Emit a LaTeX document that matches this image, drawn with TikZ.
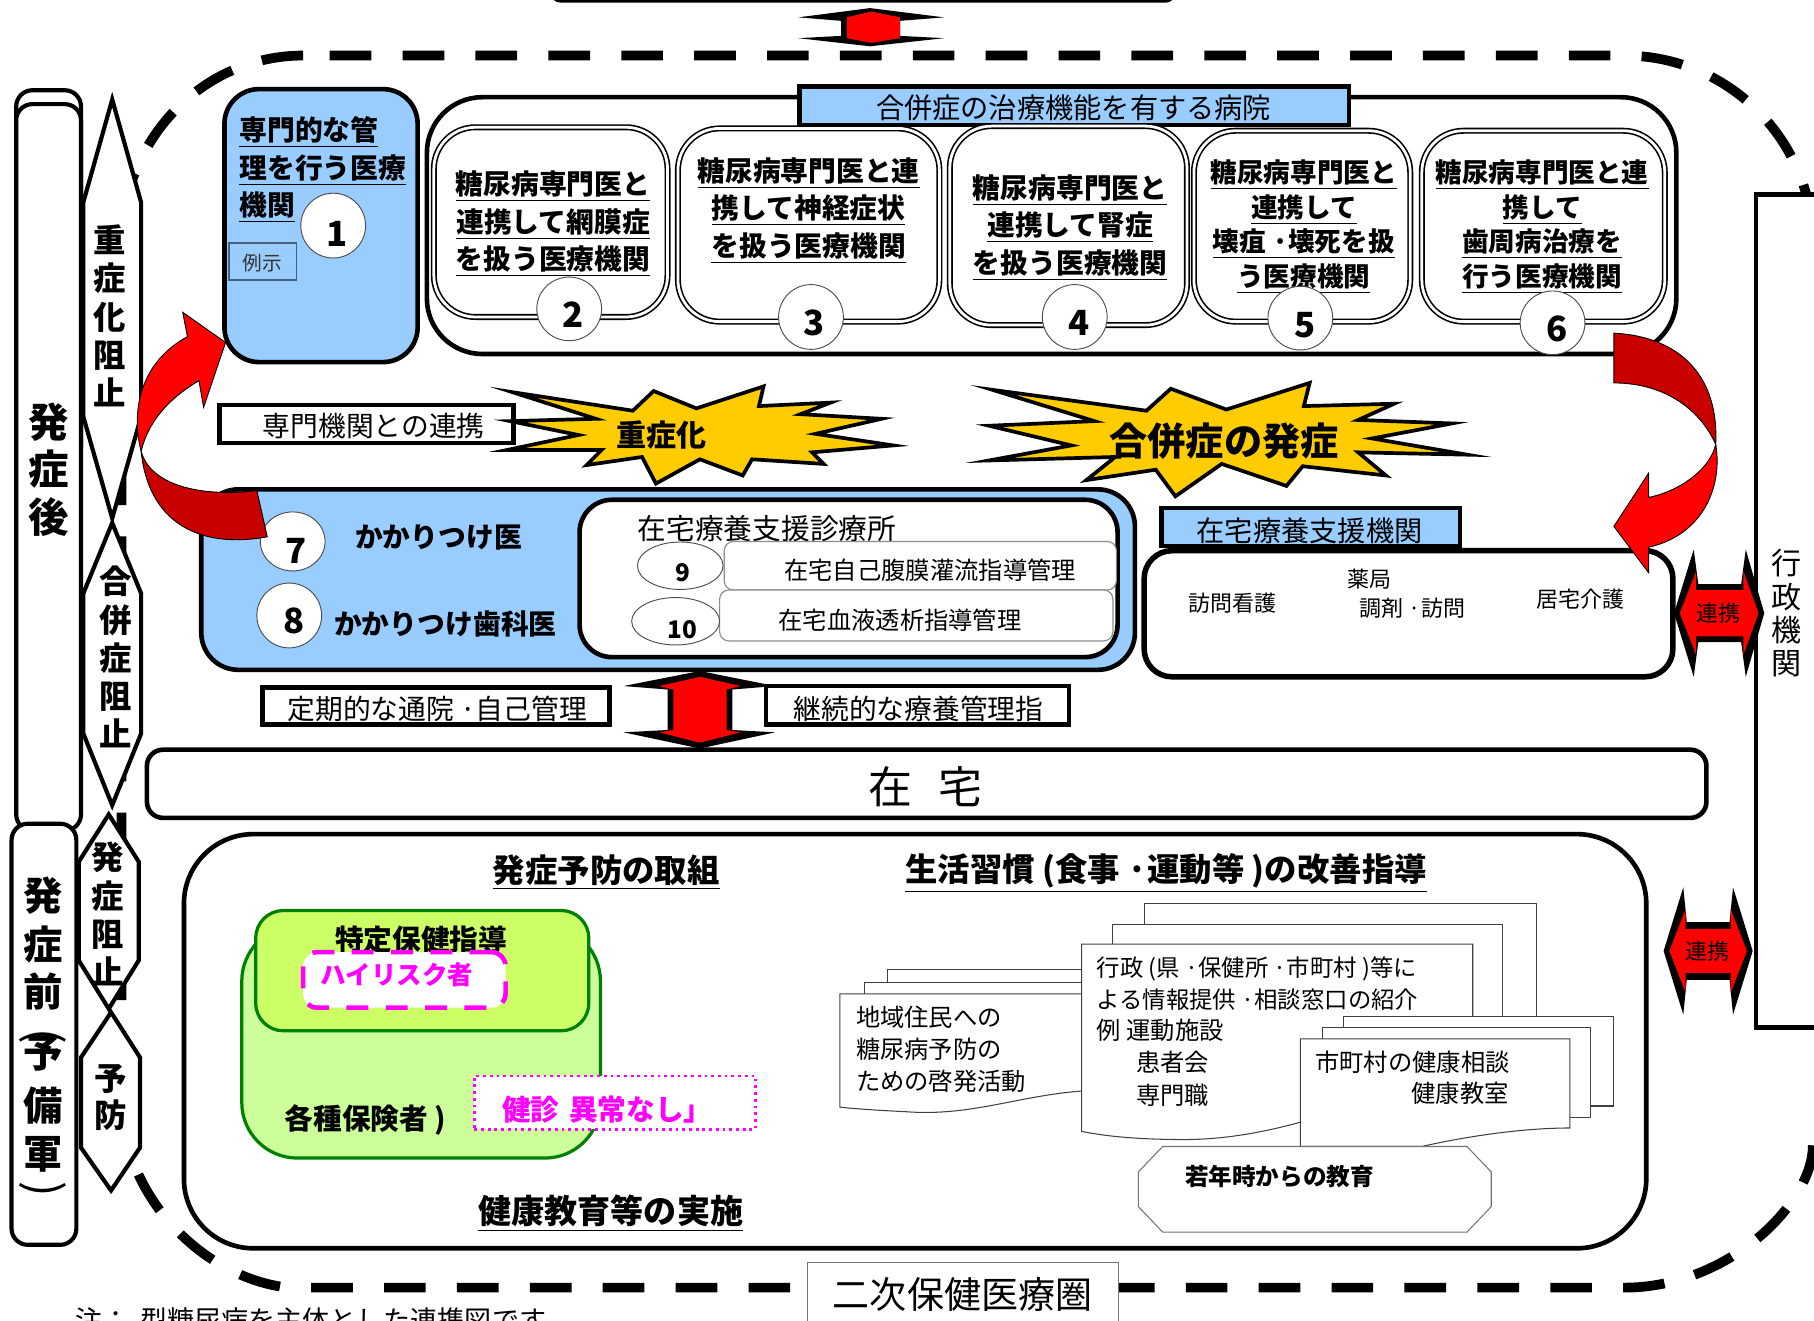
\documentclass[tikz,border=0pt]{standalone}
\usepackage{fontspec}
\setmainfont{Noto Sans CJK JP}
\usetikzlibrary{shapes.geometric}
\definecolor{skyb}{HTML}{99CCFF}
\definecolor{star}{HTML}{FFCC00}
\definecolor{dkred}{HTML}{C80000}
\definecolor{purered}{HTML}{FF0000}
\definecolor{mgt}{HTML}{FF00FF}
\definecolor{grnA}{HTML}{CCFF99}
\definecolor{grnB}{HTML}{CCFF66}
\definecolor{grnL}{HTML}{008000}
\definecolor{slateb}{HTML}{44607A}
\newcommand{\fz}[2]{\fontsize{#1}{#2}\selectfont}
\newcommand{\ul}[1]{\underline{#1}}
\newcommand{\bx}[6][]{\node[boxbase,#1,minimum width={(#5-#3)*0.5pt},minimum height={(#6-#4)*0.5pt}] (#2) at ({(#3+#5)/2},{(#4+#6)/2}) {};}
\newcommand{\el}[5]{\node[numell,minimum width={#4*0.5pt},minimum height={#5*0.5pt}] (#1) at (#2,#3) {};}
\tikzset{
  boxbase/.style={rectangle,inner sep=0pt,outer sep=0pt,draw=black,fill=white},
  heavy/.style={line width=2pt},
  numell/.style={ellipse,inner sep=0pt,outer sep=0pt,draw=black!70,line width=.4pt,fill=white},
  txt/.style={inner sep=0pt,outer sep=0pt,align=center,text=black},
  txtl/.style={inner sep=0pt,outer sep=0pt,align=left,anchor=west,text=black},
  head/.style={txt,font=\fz{12}{16}\bfseries},
  num/.style={txt,font=\fz{15}{16}\bfseries},
  hexa/.style={draw=black,fill=white,line width=1.8pt,line join=miter},
  dbl/.style={boxbase,draw=black,double=white,double distance=1.2pt,line width=.7pt,rounded corners=18pt},
  arrowout/.style={fill=black},
  arrowin/.style={fill=purered},
  starb/.style={draw=black,fill=star,line width=1.6pt,line join=miter,miter limit=20},
  docp/.style={draw=black!75,fill=white,line width=.45pt},
  curveR/.style={draw=black,line width=.4pt,fill=purered},
  curveD/.style={draw=black,line width=.4pt,fill=dkred},
  small/.style={txtl,font=\fz{10.5}{14}},
  bigdash/.style={line width=4.2pt,dash pattern=on 18pt off 13.5pt}
}
\begin{document}
\begin{tikzpicture}[x=.5pt,y=-.5pt]
\useasboundingbox (0,0) rectangle (1568,1141);
\clip (0,0) rectangle (1568,1141);
% outer dashed region, in four runs
\draw[bigdash] (285,48) -- (1404,48) .. controls (1494,48) and (1567,121) .. (1567,211);
\draw[bigdash] (269,1113) -- (1404,1113) .. controls (1494,1113) and (1567,1040) .. (1567,990);
\draw[bigdash] (262,48) .. controls (175,48) and (105,121) .. (105,211) -- (105,600);
\draw[bigdash] (242,1112) .. controls (170,1100) and (105,1030) .. (105,950) -- (105,610);
% top box and arrow
\bx[line width=1.2pt,rounded corners=3pt]{topbox}{478}{-30}{1014}{1}
\fill[arrowout] (752,7)--(816,15)--(778,18)--(778,31)--(816,33)--(752,40)--(690,33)--(727,31)--(727,18)--(690,15)--cycle;
\fill[white] (732,18) rectangle (774,31);
\fill[arrowin] (753,10)--(778,15)--(778,33)--(753,37)--(732,33)--(732,15)--cycle;
% left columns
\bx[line width=1.8pt,rounded corners=7pt]{afterA}{14}{78}{70}{400}
\bx[line width=1.8pt,rounded corners=7pt]{afterB}{14}{90}{70}{718}
\node[txt,font=\fz{17.5}{20.5}\bfseries] (afterT) at (42,406) {発\\症\\後};
\bx[line width=1.8pt,rounded corners=7pt]{before}{10}{712}{66}{1076}
\foreach \c/\yy/\nn in {発/774/a,症/816/b,前/857/c,予/911/d,備/956/e,軍/998/f}
  \node[txt,font=\fz{17}{18}\bfseries] (bf\nn) at (37,\yy) {\c};
\node[txt,font=\fz{20}{24},rotate=-90] (bfg) at (37,896) {(};
\node[txt,font=\fz{20}{24},rotate=-90] (bfh) at (37,1028) {)};
% hexagons
\draw[hexa] (97,86)--(122,175)--(122,360)--(97,448)--(72,360)--(72,175)--cycle;
\node[txt,font=\fz{14}{16.5}\bfseries] (hxA) at (95,273) {重\\症\\化\\阻\\止};
\draw[hexa] (97,452)--(122,513)--(122,634)--(97,696)--(72,634)--(72,513)--cycle;
\node[txt,font=\fz{14}{16.5}\bfseries] (hxB) at (100,568) {合\\併\\症\\阻\\止};
\draw[hexa] (94,704)--(120,745)--(120,830)--(94,872)--(68,830)--(68,745)--cycle;
\node[txt,font=\fz{14}{16.5}\bfseries] (hxC) at (93,790) {発\\症\\阻\\止};
\draw[hexa] (96,875)--(121,914)--(121,992)--(96,1029)--(70,992)--(70,914)--cycle;
\node[txt,font=\fz{14}{16}\bfseries] (hxD) at (96,949) {予\\防};
% gov box
\bx[heavy]{gov}{1518}{168}{1600}{888}
\node[txt,font=\fz{13}{14.3}] (govT) at (1544,530) {行\\政\\機\\関};
% specialist blue
\bx[heavy,fill=skyb,rounded corners=15pt]{spec}{194}{77}{361}{313}
\node[txtl,font=\fz{12}{16.2}\bfseries] (specT) at (207,147) {\ul{専門的な管}\\\ul{理を行う医療}\\\ul{機関}};
\el{c1}{288}{195}{56}{56}
\node[num] (n1) at (291,202) {1};
\bx[draw=slateb,line width=.5pt,fill=skyb]{rei}{198}{210}{256}{242}
\node[txt,font=\fz{8.5}{10},text=black!80] (reiT) at (227,227) {例示};
% complication hospital
\bx[heavy,rounded corners=24pt]{hosp}{369}{84}{1449}{306}
\bx[heavy,fill=skyb]{hospT}{691}{75}{1166}{108}
\node[txt,font=\fz{12.2}{14}] (hospL) at (928,93) {合併症の治療機能を有する病院};
\bx[dbl]{b2}{375}{110}{577}{274}
\bx[dbl]{b3}{586}{111}{812}{278}
\bx[dbl]{b4}{821}{109}{1026}{281}
\bx[dbl]{b5}{1032}{113}{1219}{278}
\bx[dbl]{b6}{1229}{113}{1439}{278}
\node[head,font=\fz{12}{16.2}\bfseries] (t2) at (478,193.5) {\ul{糖尿病専門医と}\\\ul{連携して網膜症}\\\ul{を扱う医療機関}};
\node[head,font=\fz{12}{16.2}\bfseries] (t3) at (699,182) {\ul{糖尿病専門医と連}\\\ul{携して神経症状}\\\ul{を扱う医療機関}};
\node[head,font=\fz{12}{16.2}\bfseries] (t4) at (925,196.5) {\ul{糖尿病専門医と}\\\ul{連携して腎症}\\\ul{を扱う医療機関}};
\node[head,font=\fz{11.5}{15}\bfseries] (t5) at (1127,196) {\ul{糖尿病専門医と}\\\ul{連携して}\\\ul{壊疽 ·壊死を扱}\\\ul{う医療機関}};
\node[head,font=\fz{11.5}{15}\bfseries] (t6) at (1333,196) {\ul{糖尿病専門医と連}\\\ul{携して}\\\ul{歯周病治療を}\\\ul{行う医療機関}};
\el{c2}{492}{267}{56}{55}\node[num] (n2) at (495,272) {2};
\el{c3}{701}{274}{56}{56}\node[num] (n3) at (704,279) {3};
\el{c4}{929}{274}{56}{56}\node[num] (n4) at (933,279) {4};
\el{c5}{1124}{275}{56}{55}\node[num] (n5) at (1128,281) {5};
\el{c6}{1342}{279}{56}{55}\node[num] (n6) at (1346,284) {6};
% stars
\bx[heavy]{link}{190}{350}{444}{383}
\node[txt,font=\fz{12}{14}] (linkT) at (323,368) {専門機関との連携};
\draw[starb] (443,339)--(547,355)--(565,338)--(602,353)--(660,334)--(656,351)--(718,348)--(692,358)--(762,362)--(705,375)--(772,385)--(702,391)--(712,401)--(650,397)--(642,411)--(605,397)--(567,418)--(555,395)--(507,402)--(520,389)--(438,389)--(500,376)--(441,364)--(515,362)--cycle;
\node[txt,font=\fz{13}{14}\bfseries] (starAT) at (572,376) {重症化};
\draw[starb] (858,337)--(991,355)--(1012,336)--(1060,354)--(1132,331)--(1127,351)--(1205,349)--(1174,363)--(1255,366)--(1186,379)--(1268,393)--(1174,391)--(1198,411)--(1126,403)--(1112,420)--(1056,401)--(1016,429)--(999,406)--(939,415)--(964,395)--(855,398)--(926,385)--(855,368)--(946,364)--cycle;
\node[txt,font=\fz{16.5}{18}\bfseries] (starBT) at (1058,381) {合併症の発症};
% family doctor block
\bx[heavy,fill=skyb,rounded corners=16pt]{fam}{174}{423}{981}{579}
\bx[heavy,rounded corners=14pt]{home}{501}{432}{966}{568}
\node[txt,font=\fz{12.4}{14}] (homeT) at (663,457) {在宅療養支援診療所};
\el{c7}{253}{468}{56}{51}\node[num] (n7) at (256,476) {7};
\el{c8}{250}{532}{56}{56}\node[num] (n8) at (254,537) {8};
\node[txt,font=\fz{12}{14}\bfseries] (d7) at (379,465) {かかりつけ医};
\node[txt,font=\fz{12}{14}\bfseries] (d8) at (385,539) {かかりつけ歯科医};
\bx[draw=black!45,line width=.5pt,rounded corners=4pt]{p9}{626}{468}{965}{510}
\bx[draw=black!45,line width=.5pt,rounded corners=4pt]{p10}{622}{510}{962}{554}
\el{c9}{588}{489}{74}{41}\node[txt,font=\fz{10.5}{12}\bfseries] (n9) at (590,495) {9};
\el{c10}{584}{537}{76}{41}\node[txt,font=\fz{10.5}{12}\bfseries] (n10) at (590,544) {10};
\node[txt,font=\fz{10.5}{12}] (p9T) at (804,493) {在宅自己腹膜灌流指導管理};
\node[txt,font=\fz{10.5}{12}] (p10T) at (778,536) {在宅血液透析指導管理};
% support institutions
\bx[heavy,fill=skyb]{supT}{1004}{439}{1262}{472}
\node[txt,font=\fz{12.2}{14}] (supL) at (1132,459) {在宅療養支援機関};
\bx[line width=2.4pt,rounded corners=12pt]{sup}{989}{476}{1446}{585}
\node[txt,font=\fz{9.5}{11}] (s1) at (1065,521) {訪問看護};
\node[txt,font=\fz{9.5}{11}] (s2) at (1184,501) {薬局};
\node[txt,font=\fz{9.5}{11}] (s3) at (1221,526) {調剤 ·訪問};
\node[txt,font=\fz{9.5}{11}] (s4) at (1366,518) {居宅介護};
% renkei arrows
\fill[arrowout] (1447,530)--(1464,475)--(1468,505)--(1505,505)--(1509,475)--(1525,530)--(1509,585)--(1505,555)--(1468,555)--(1464,585)--cycle;
\fill[arrowin] (1452,530)--(1466,494)--(1466,510)--(1507,510)--(1507,494)--(1520,530)--(1507,566)--(1507,550)--(1466,550)--(1466,566)--cycle;
\node[txt,font=\fz{9.5}{11}] (rA) at (1485,530) {連携};
\fill[arrowout] (1438,822)--(1455,767)--(1458,797)--(1495,797)--(1498,767)--(1515,822)--(1498,877)--(1495,847)--(1458,847)--(1455,877)--cycle;
\fill[arrowin] (1443,822)--(1457,786)--(1457,803)--(1496,803)--(1496,786)--(1510,822)--(1496,858)--(1496,841)--(1457,841)--(1457,858)--cycle;
\node[txt,font=\fz{9.5}{11}] (rB) at (1476,822) {連携};
% centre arrow and side labels
\fill[arrowout] (605,580)--(670,593)--(633,596)--(633,631)--(670,633)--(605,647)--(539,633)--(577,631)--(577,596)--(539,593)--cycle;
\fill[arrowin] (605,585)--(640,593)--(628,596)--(628,631)--(640,633)--(605,642)--(570,633)--(582,631)--(582,596)--(570,593)--cycle;
\bx[heavy]{visit}{227}{594}{527}{626}
\node[txt,font=\fz{12}{14}] (visitT) at (378,613) {定期的な通院 ·自己管理};
\bx[heavy]{care}{662}{593}{924}{626}
\node[txt,font=\fz{12}{14}] (careT) at (794,613) {継続的な療養管理指};
\bx[heavy,rounded corners=7pt]{zaitaku}{127}{648}{1475}{707}
\node[txt,font=\fz{19}{21}] (zaiT) at (800,680) {在\hspace{.6em}宅};
% red curved arrows
\draw[curveD] (122,390) .. controls (130,420) and (175,430) .. (222,424) -- (231,464) .. controls (170,475) and (128,450) .. (122,390) -- cycle;
\draw[curveR] (122,390) .. controls (114,360) and (118,315) .. (162,291) -- (158,270) -- (195,296) -- (176,352) -- (172,329) .. controls (145,345) and (128,365) .. (122,390) -- cycle;
\draw[curveD] (1395,288) .. controls (1454,291) and (1486,327) .. (1483,384) .. controls (1470,355) and (1440,331) .. (1395,331) -- cycle;
\draw[curveR] (1483,384) .. controls (1489,418) and (1474,462) .. (1425,473) -- (1425,495) -- (1395,455) -- (1425,409) -- (1425,430) .. controls (1454,424) and (1479,404) .. (1483,384) -- cycle;
% lower box
\bx[heavy,rounded corners=30pt]{lower}{159}{721}{1423}{1079}
\node[txt,font=\fz{14}{15}\bfseries] (lA) at (524,754) {\ul{発症予防の取組}};
\node[txt,font=\fz{14}{15}\bfseries] (lB) at (1008,755) {\ul{生活習慣 (食事 ·運動等 )の改善指導}};
\node[txt,font=\fz{14.3}{15}\bfseries] (lC) at (528,1049) {\ul{健康教育等の実施}};
% green group
\bx[draw=grnL,line width=1.4pt,fill=grnA,rounded corners=24pt]{gA}{209}{800}{519}{1001}
\bx[draw=grnL,line width=1.4pt,fill=grnB,rounded corners=12pt]{gB}{221}{787}{509}{891}
\node[txt,font=\fz{12.4}{14}\bfseries] (gBT) at (364,812) {特定保健指導};
\bx[draw=mgt,line width=2pt,dash pattern=on 9.5pt off 7.5pt,rounded corners=6pt]{hr}{262}{823}{437}{871}
\node[txt,font=\fz{11}{14}\bfseries,text=mgt] (hrT) at (343,843) {ハイリスク者};
\node[txt,font=\fz{12.4}{14}\bfseries] (insT) at (316,968) {各種保険者 )};
\bx[draw=mgt,line width=1.2pt,dash pattern=on 1.2pt off 1.7pt]{ok}{410}{930}{653}{976}
\node[txt,font=\fz{12.4}{14}\bfseries,text=mgt] (okT) at (525,959) {健診 \hspace{.1em}異常なし」};
% documents left
\draw[docp] (767,838) rectangle (940,880);
\draw[docp] (747,849) rectangle (940,890);
\draw[docp] (726,859) -- (936,859) -- (936,943) .. controls (880,947) and (840,965) .. (784,961) .. controls (765,960) and (745,959) .. (726,957) -- cycle;
\node[small] (dl) at (740,907) {地域住民への\\糖尿病予防の\\ための啓発活動};
% documents middle
\draw[docp] (989,781) rectangle (1328,900);
\draw[docp] (962,799) rectangle (1299,900);
\draw[docp] (935,816) -- (1273,816) -- (1273,900) -- (1124,970) .. controls (1095,978) and (1060,985) .. (1024,985) .. controls (990,985) and (960,983) .. (935,978) -- cycle;
\node[small,font=\fz{10.1}{14}] (dm) at (948,850) {行政 (県 ·保健所 ·市町村 )等に\\よる情報提供 ·相談窓口の紹介};
\node[small] (dm3) at (948,891) {例 運動施設};
\node[small] (dm2) at (982,932.5) {患者会\\専門職};
% documents right
\draw[docp] (1161,879) rectangle (1395,956);
\draw[docp] (1143,888) rectangle (1375,966);
\draw[docp] (1124,898) -- (1357,898) -- (1357,975) .. controls (1314,975) and (1264,983) .. (1229,991) -- (1124,991) -- cycle;
\node[small] (dr1) at (1137,918) {市町村の健康相談};
\node[txt,font=\fz{10.5}{14},anchor=east] (dr2) at (1304,945) {健康教室};
% octagon
\draw[docp,draw=black!55] (1005,991)--(1268,991)--(1289,1013)--(1289,1043)--(1268,1065)--(1005,1065)--(984,1043)--(984,1013)--cycle;
\node[txt,font=\fz{10.2}{12}\bfseries] (octT) at (1106,1017) {若年時からの教育};
% area label and note
\bx[draw=black!55,line width=.5pt]{area}{698}{1091}{967}{1170}
\node[txt,font=\fz{16}{18}] (areaT) at (832,1119) {二次保健医療圏};
\node[txtl,font=\fz{11.7}{12}] (note) at (65,1141) {注：\hspace{.4em}型糖尿病を主体とした連携図です};
\end{tikzpicture}
\end{document}
